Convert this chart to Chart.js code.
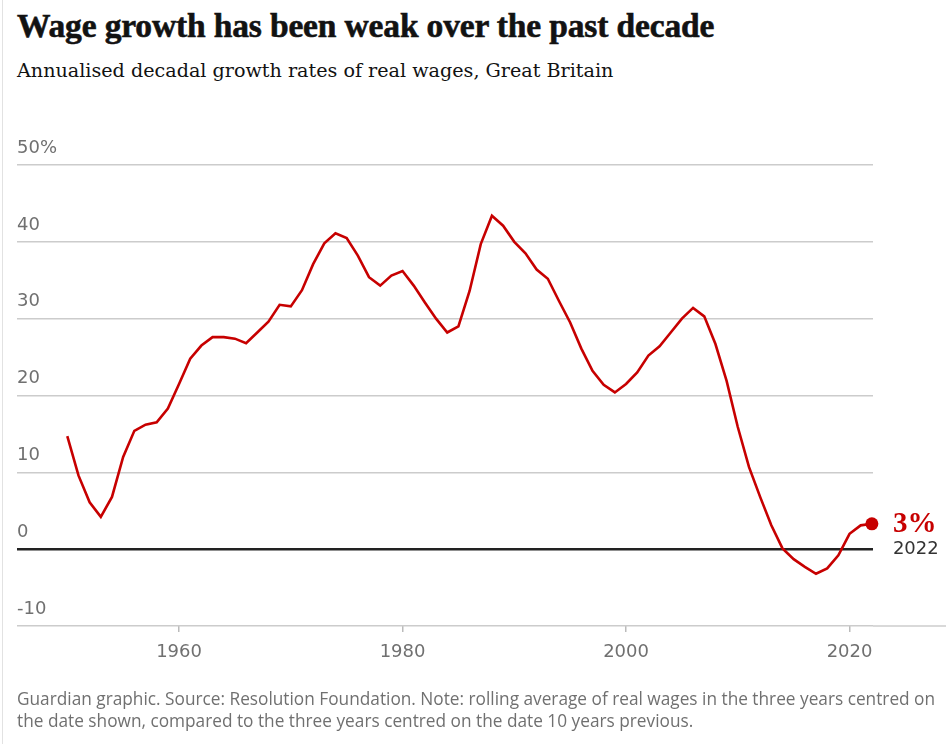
<!DOCTYPE html>
<html>
<head>
<meta charset="utf-8">
<script src="https://cdn.jsdelivr.net/npm/chart.js@4.4.0/dist/chart.umd.min.js"></script>
<style>
  html, body { margin: 0; padding: 0; background: #fff; }
  body { width: 952px; height: 744px; position: relative; overflow: hidden; }
  .edge { position: absolute; left: 2px; top: 0; width: 1px; height: 744px; background: #e2e2e2; }
  #title { position: absolute; left: 17px; top: 7px; margin: 0; font-family: "Liberation Serif", serif; font-weight: 700; font-size: 33.5px; color: #121212; white-space: nowrap; letter-spacing: -0.15px; -webkit-text-stroke: 0.6px #121212; }
  #subtitle { position: absolute; left: 17px; top: 59px; margin: 0; font-family: "DejaVu Serif", serif; font-size: 19.15px; color: #121212; white-space: nowrap; }
  #footer { position: absolute; left: 17px; top: 688px; margin: 0; font-family: "Open Sans", sans-serif; font-size: 17.25px; line-height: 22px; color: #707070; white-space: nowrap; }
  #chart { position: absolute; left: 0; top: 0; }
</style>
</head>
<body>
<div class="edge"></div>
<h1 id="title">Wage growth has been weak over the past decade</h1>
<p id="subtitle">Annualised decadal growth rates of real wages, Great Britain</p>
<canvas id="chart" width="952" height="744"></canvas>
<p id="footer">Guardian graphic. Source: Resolution Foundation. Note: rolling average of real wages in the three years centred on<br>the date shown, compared to the three years centred on the date 10 years previous.</p>

<script>
// Data
const years = [
    1950, 1951, 1952, 1953, 1954, 1955, 1956, 1957, 1958, 1959,
    1960, 1961, 1962, 1963, 1964, 1965, 1966, 1967, 1968, 1969,
    1970, 1971, 1972, 1973, 1974, 1975, 1976, 1977, 1978, 1979,
    1980, 1981, 1982, 1983, 1984, 1985, 1986, 1987, 1988, 1989,
    1990, 1991, 1992, 1993, 1994, 1995, 1996, 1997, 1998, 1999,
    2000, 2001, 2002, 2003, 2004, 2005, 2006, 2007, 2008, 2009,
    2010, 2011, 2012, 2013, 2014, 2015, 2016, 2017, 2018, 2019,
    2020, 2021, 2022
];
const wageGrowth = [
    14.7, 9.6, 6.1, 4.2, 6.8, 12.0, 15.4, 16.2, 16.5, 18.3,
    21.5, 24.8, 26.5, 27.6, 27.6, 27.4, 26.8, 28.2, 29.6, 31.8,
    31.6, 33.7, 37.1, 39.8, 41.1, 40.5, 38.2, 35.4, 34.3, 35.6,
    36.2, 34.3, 32.1, 30.0, 28.2, 29.0, 33.6, 39.7, 43.4, 42.1,
    40.0, 38.5, 36.4, 35.2, 32.3, 29.5, 26.1, 23.2, 21.4, 20.4,
    21.5, 23.0, 25.2, 26.4, 28.2, 30.0, 31.4, 30.3, 26.7, 21.9,
    15.9, 10.7, 6.8, 3.1, 0.1, -1.3, -2.3, -3.2, -2.5, -0.8,
    2.0, 3.1, 3.3
];
const xTicks = [1960, 1980, 2000, 2020];
const yTicks = [-10, 0, 10, 20, 30, 40, 50];

const red = '#c70000';
const grey = '#707070';
const tickFont = '"DejaVu Sans", sans-serif';

// last value label, "3%" and "2022"
const endLabel = {
    id: 'endLabel',
    afterDraw: function (chart) {
        const ctx = chart.ctx;
        const meta = chart.getDatasetMeta(0);
        const last = meta.data[meta.data.length - 1];
        const area = chart.chartArea;
        ctx.save();
        // bottom axis line runs on past the plot
        ctx.strokeStyle = '#cccccc';
        ctx.lineWidth = 1.5;
        ctx.beginPath();
        ctx.moveTo(area.right, area.bottom);
        ctx.lineTo(946, area.bottom);
        ctx.stroke();

        ctx.textAlign = 'left';
        ctx.textBaseline = 'alphabetic';
        ctx.fillStyle = red;
        ctx.font = 'bold 29px "Liberation Serif", serif';
        ctx.fillText(Math.round(wageGrowth[wageGrowth.length - 1]) + '%', last.x + 21, last.y + 8);
        ctx.fillStyle = '#333333';
        ctx.font = '18px ' + tickFont;
        ctx.fillText(String(years[years.length - 1]), last.x + 21, last.y + 30);
        ctx.restore();
    }
};

const chartData = {
    type: 'line',
    data: {
        labels: years,
        datasets: [{
            data: years.map(function (y, i) { return { x: y, y: wageGrowth[i] }; }),
            borderColor: red,
            backgroundColor: red,
            borderWidth: 2.6,
            tension: 0,
            pointRadius: function (c) { return c.dataIndex === wageGrowth.length - 1 ? 6.5 : 0; },
            pointHoverRadius: 0,
            pointBorderWidth: 0,
            clip: false
        }]
    },
    options: {
        responsive: false,
        animation: false,
        events: [],
        layout: {
            padding: { left: 17, right: 79, top: 165, bottom: 78 }
        },
        plugins: {
            legend: { display: false },
            tooltip: { enabled: false }
        },
        scales: {
            x: {
                type: 'linear',
                min: 1945.5,
                max: 2022.1,
                afterBuildTicks: function (scale) {
                    scale.ticks = xTicks.map(function (v) { return { value: v }; });
                },
                afterFit: function (scale) { scale.height = 40; },
                border: { display: false },
                grid: {
                    drawOnChartArea: false,
                    drawTicks: true,
                    tickLength: 6,
                    color: '#bbbbbb',
                    lineWidth: 1.5
                },
                ticks: {
                    padding: 10,
                    color: grey,
                    font: { family: tickFont, size: 18 },
                    callback: function (v) { return String(v); }
                }
            },
            y: {
                min: -10,
                max: 50,
                afterBuildTicks: function (scale) {
                    scale.ticks = yTicks.map(function (v) { return { value: v }; });
                },
                afterFit: function (scale) { scale.width = 0; },
                border: { display: false },
                grid: {
                    drawTicks: false,
                    color: function (c) { return c.tick && c.tick.value === 0 ? '#222222' : '#cccccc'; },
                    lineWidth: function (c) { return c.tick && c.tick.value === 0 ? 2.6 : 1.5; }
                },
                ticks: {
                    mirror: true,
                    padding: 0,
                    labelOffset: -17,
                    color: grey,
                    font: { family: tickFont, size: 18 },
                    callback: function (v) { return v === 50 ? '50%' : String(v); }
                }
            }
        }
    },
    plugins: [endLabel]
};

new Chart(document.getElementById('chart'), chartData);
</script>
</body>
</html>
